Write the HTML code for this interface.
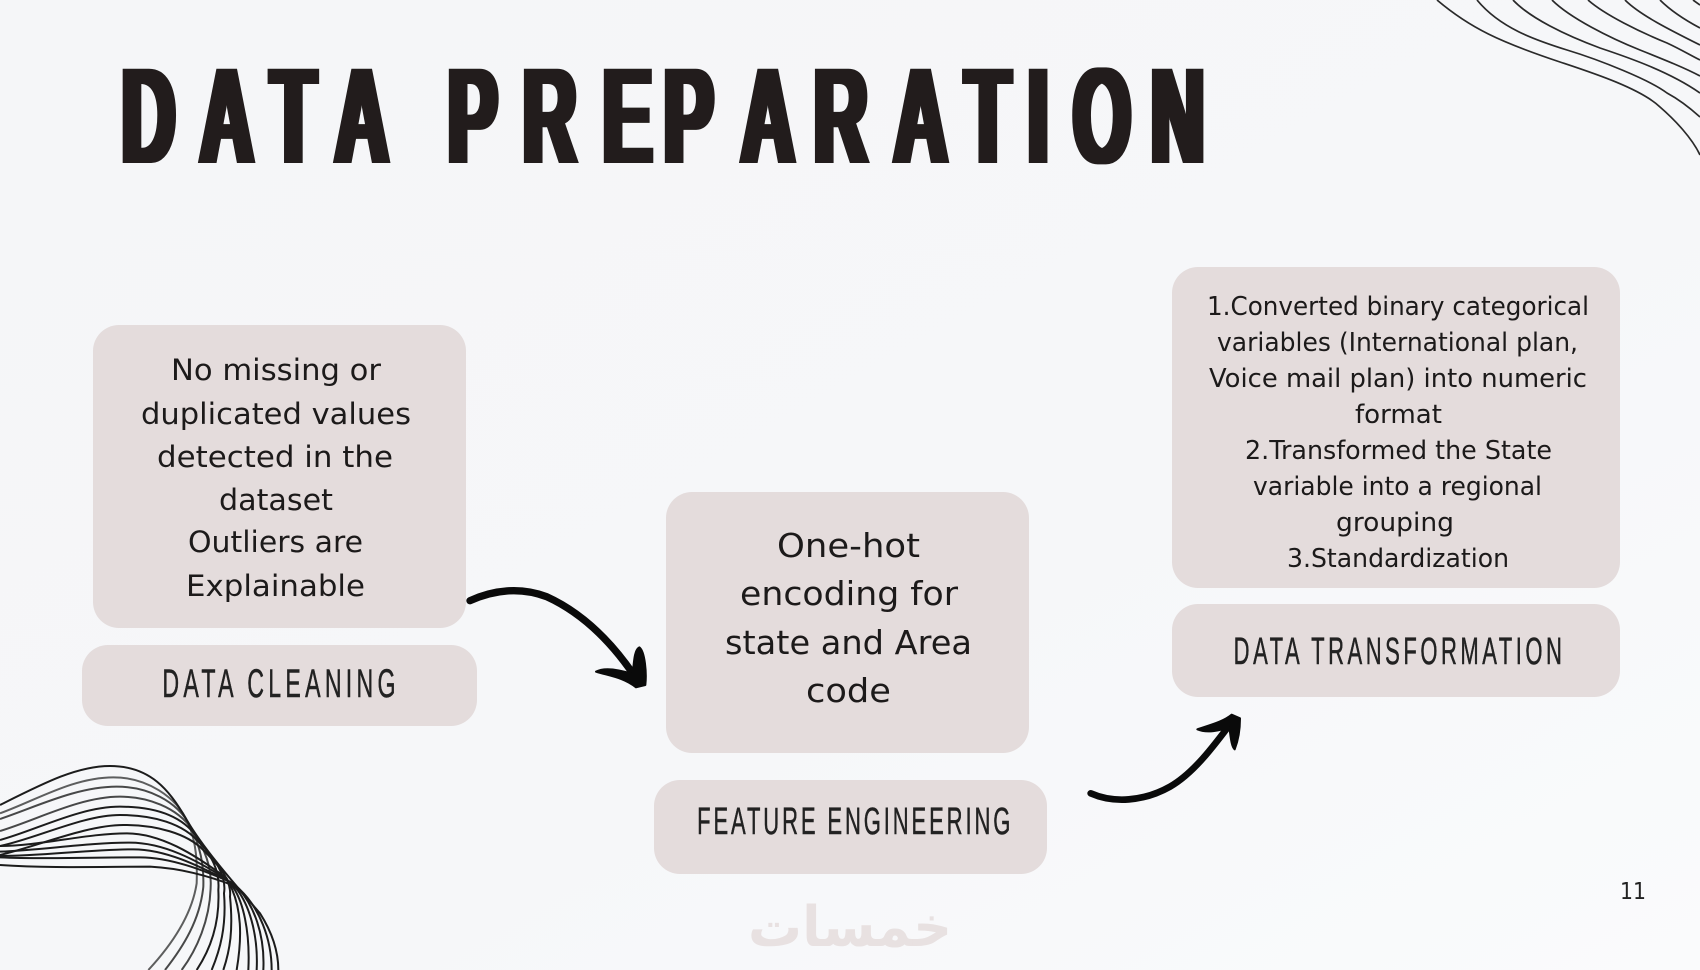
<!DOCTYPE html>
<html><head><meta charset="utf-8"><style>
html,body{margin:0;padding:0;background:#f5f6f8}
svg{display:block}
.m{font-family:"DejaVu Sans","Liberation Sans",sans-serif;fill:#1c1a1a;text-anchor:start}
.o{font-family:"Liberation Sans",sans-serif;fill:#222;stroke:#222;stroke-width:.5}
</style></head><body>
<svg xmlns="http://www.w3.org/2000/svg" width="1700" height="970" viewBox="0 0 1700 970">
<defs>
<linearGradient id="bg" x1="0" y1="0" x2="1" y2="1"><stop offset="0" stop-color="#f5f6f8"/><stop offset="0.6" stop-color="#f6f7f9"/><stop offset="1" stop-color="#fafbfc"/></linearGradient>
<filter id="fat" x="-2%" y="-5%" width="104%" height="110%"><feMorphology operator="dilate" radius="4 0"/></filter>
</defs>
<rect width="1700" height="970" fill="url(#bg)"/>

<g fill="none" stroke="#2a2a2a" stroke-width="1.7">
<path d="M1437,0 C1470,28 1500,42 1560,62 C1590,72 1640,88 1660,107 C1675,120 1692,138 1700,155"/>
<path d="M1477,0 C1500,28 1535,40 1567,50 C1600,60 1650,80 1667,93 C1680,100 1690,108 1700,117"/>
<path d="M1513,0 C1530,18 1565,35 1600,48 C1630,58 1670,72 1700,93"/>
<path d="M1552,0 C1570,18 1610,38 1640,50 C1665,60 1685,68 1700,76"/>
<path d="M1588,0 C1605,15 1640,32 1667,43 C1680,49 1690,55 1700,60"/>
<path d="M1625,0 C1640,15 1670,30 1700,45"/>
<path d="M1660,0 C1670,10 1685,20 1700,28"/>
<path d="M1693,0 L1700,5"/>
</g>

<g transform="translate(0,750) scale(.33333)" fill="none" stroke="#1c1c1c" stroke-width="6">
<path d="M0,165 C130,100 230,48 330,48 C450,48 510,120 560,210 C620,310 720,420 780,490 C815,545 835,600 835,660"/>
<path d="M0,190 C110,150 220,82 340,82 C440,82 530,140 565,220 C590,280 592,340 590,400 C575,500 510,590 445,660" opacity=".7"/>
<path d="M0,207 C110,170 230,110 350,110 C440,110 530,150 572,230 C600,290 612,340 610,410 C600,510 550,590 495,660" opacity=".8"/>
<path d="M0,243 C110,210 240,140 360,140 C440,140 530,170 578,240 C615,300 635,350 632,410 C630,510 590,600 545,660" opacity=".8"/>
<path d="M0,270 C110,240 240,170 360,170 C450,170 540,190 590,260 C635,320 660,360 655,420 C660,520 630,600 590,660"/>
<path d="M0,288 C110,265 250,195 360,195 C460,195 550,220 600,280 C650,330 680,380 672,430 C680,530 660,600 635,660"/>
<path d="M0,315 C110,290 260,225 370,225 C470,225 560,250 610,300 C660,350 695,390 690,440 C700,540 690,600 670,660"/>
<path d="M0,288 C120,288 260,250 380,250 C480,250 580,310 680,385 C730,470 725,570 710,660"/>
<path d="M0,305 C130,300 260,278 390,278 C490,278 590,330 680,388 C735,440 750,560 745,660"/>
<path d="M0,318 C130,318 270,298 400,298 C500,298 600,350 690,395 C750,450 775,560 770,660"/>
<path d="M0,322 C130,328 280,322 420,322 C510,322 610,360 700,400 C765,460 795,560 790,660"/>
<path d="M0,345 C150,355 300,350 450,350 C540,355 620,375 710,410 C780,470 815,570 815,660"/>
</g>

<g filter="url(#fat)">
<g transform="translate(4,0) scale(.54,1)">
<text x="218 363 494 613 741 822 961 1109 1222 1365 1500 1648 1780 1896 1980 2124" y="163" font-family="'Liberation Sans',sans-serif" font-size="137" font-weight="700" fill="#221f1e">DATA PREPARATION</text>
</g>
</g>

<g fill="#e4dcdc">
<rect x="93" y="325" width="373" height="303" rx="26"/>
<rect x="82" y="645" width="395" height="81" rx="26"/>
<rect x="666" y="492" width="363" height="261" rx="26"/>
<rect x="654" y="780" width="393" height="94" rx="26"/>
<rect x="1172" y="267" width="448" height="321" rx="26"/>
<rect x="1172" y="604" width="448" height="93" rx="26"/>
</g>

<g font-size="29">
<text class="m" x="171" y="380" textLength="210" lengthAdjust="spacingAndGlyphs">No missing or</text>
<text class="m" x="141" y="424" textLength="270" lengthAdjust="spacingAndGlyphs">duplicated values</text>
<text class="m" x="157" y="467" textLength="236" lengthAdjust="spacingAndGlyphs">detected in the</text>
<text class="m" x="219" y="510" textLength="114" lengthAdjust="spacingAndGlyphs">dataset</text>
<text class="m" x="188" y="552" textLength="175" lengthAdjust="spacingAndGlyphs">Outliers are</text>
<text class="m" x="186" y="596" textLength="179" lengthAdjust="spacingAndGlyphs">Explainable</text>
</g>
<g font-size="33">
<text class="m" x="777" y="557" textLength="143" lengthAdjust="spacingAndGlyphs">One-hot</text>
<text class="m" x="740" y="605" textLength="218" lengthAdjust="spacingAndGlyphs">encoding for</text>
<text class="m" x="725" y="654" textLength="247" lengthAdjust="spacingAndGlyphs">state and Area</text>
<text class="m" x="806" y="702" textLength="85" lengthAdjust="spacingAndGlyphs">code</text>
</g>
<g font-size="26">
<text class="m" x="1207" y="315" textLength="382" lengthAdjust="spacingAndGlyphs">1.Converted binary categorical</text>
<text class="m" x="1217" y="351" textLength="361" lengthAdjust="spacingAndGlyphs">variables (International plan,</text>
<text class="m" x="1209" y="387" textLength="378" lengthAdjust="spacingAndGlyphs">Voice mail plan) into numeric</text>
<text class="m" x="1355" y="423" textLength="87" lengthAdjust="spacingAndGlyphs">format</text>
<text class="m" x="1245" y="459" textLength="307" lengthAdjust="spacingAndGlyphs">2.Transformed the State</text>
<text class="m" x="1253" y="495" textLength="289" lengthAdjust="spacingAndGlyphs">variable into a regional</text>
<text class="m" x="1336" y="531" textLength="118" lengthAdjust="spacingAndGlyphs">grouping</text>
<text class="m" x="1287" y="567" textLength="222" lengthAdjust="spacingAndGlyphs">3.Standardization</text>
</g>

<g transform="scale(.58,1)">
<text class="o" x="280" y="697" font-size="40" textLength="402" lengthAdjust="spacing">DATA CLEANING</text>
<text class="o" x="1202" y="834" font-size="38" textLength="540" lengthAdjust="spacing">FEATURE ENGINEERING</text>
<text class="o" x="2127" y="664" font-size="38" textLength="566" lengthAdjust="spacing">DATA TRANSFORMATION</text>
</g>

<g transform="translate(450,570) scale(.33333)">
<path d="M60,92 C130,60 210,50 290,80 C400,130 490,220 565,335" fill="none" stroke="#0a0a0a" stroke-width="22" stroke-linecap="round"/>
<path d="M568,232 C585,245 590,310 586,345 L558,352 C520,322 480,318 438,305 C465,290 510,300 548,312 C552,280 552,240 568,232Z" fill="#0a0a0a" stroke="#0a0a0a" stroke-width="6" stroke-linejoin="round"/>
</g>
<g transform="translate(1070,690) scale(.33333)">
<path d="M62,310 C130,340 220,335 300,290 C370,250 430,170 490,90" fill="none" stroke="#0a0a0a" stroke-width="20" stroke-linecap="round"/>
<path d="M485,74 L510,85 C510,120 505,150 494,178 C484,170 482,140 478,112 C450,122 410,130 382,118 C420,105 460,95 485,74Z" fill="#0a0a0a" stroke="#0a0a0a" stroke-width="6" stroke-linejoin="round"/>
</g>

<text x="1620" y="899" font-size="23" font-family="'DejaVu Sans',sans-serif" fill="#222" textLength="26" lengthAdjust="spacingAndGlyphs">11</text>
<text x="952" y="946" font-size="56" font-weight="700" font-family="'DejaVu Sans',sans-serif" fill="#e8e1e1" textLength="204" lengthAdjust="spacingAndGlyphs" style="direction:rtl">خمسات</text>
</svg>
</body></html>
